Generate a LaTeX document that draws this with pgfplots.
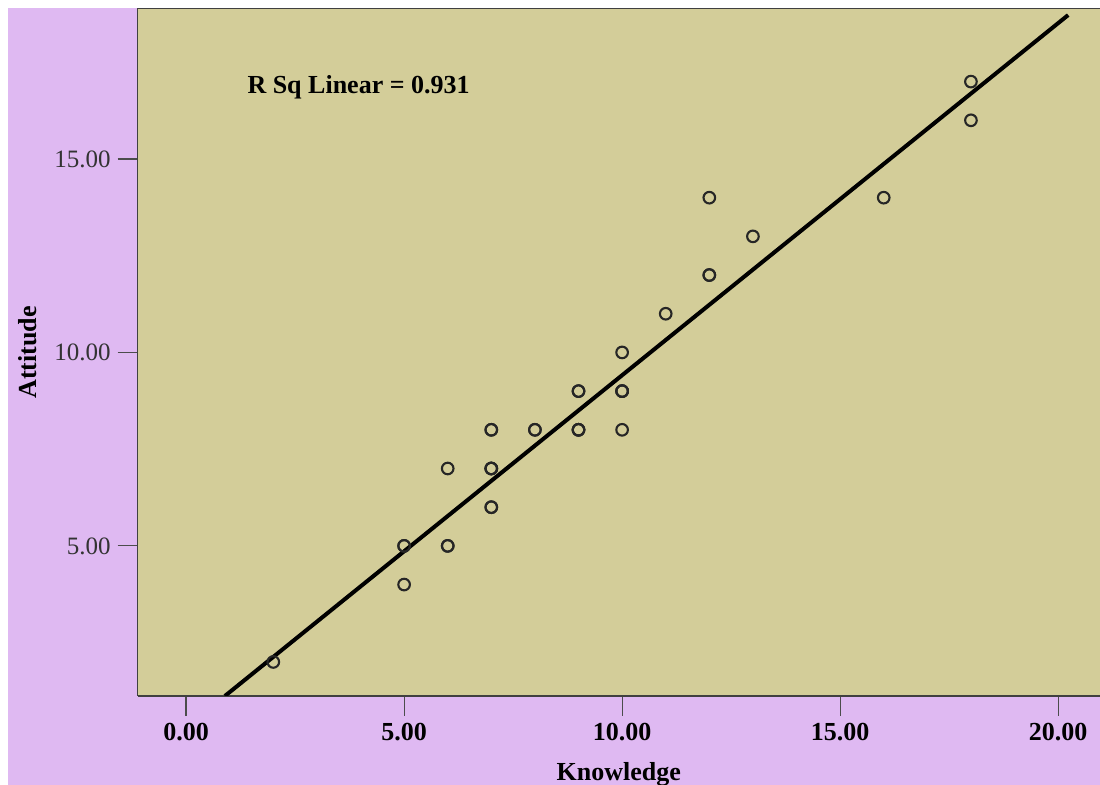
\documentclass[border=0pt]{standalone}
\usepackage{fontspec}
\setmainfont{Liberation Serif}
\usepackage{pgfplots}
\pgfplotsset{compat=1.18}
\definecolor{lav}{RGB}{223,185,242}
\definecolor{plotbg}{RGB}{211,205,153}
\begin{document}
\begin{tikzpicture}[x=1pt,y=1pt]
\fill[white] (-68.85,-44.5) rectangle (481.15,348);
\fill[lav] (-64.85,-44.5) rectangle (481.15,344.2);
\begin{axis}[
  at={(0,0)}, anchor=south west,
  scale only axis, width=481.15pt, height=343.75pt,
  xmin=-1.11, xmax=20.96, ymin=1.12, ymax=18.89,
  axis background/.style={fill=plotbg},
  axis x line=box, axis y line=left,
  axis line style={-, draw=black!75, line width=0.7pt},
  xtick pos=left, ytick pos=left,
  tick align=outside, major tick length=10pt,
  tick style={draw=black!70, line width=0.6pt},
  xtick={0,5,10,15,20},
  xticklabels={0.00,5.00,10.00,15.00,20.00},
  ytick={5,10,15},
  yticklabels={5.00,10.00,15.00},
  xticklabel style={font=\bfseries\fontsize{13}{15}\selectfont, text=black},
  yticklabel style={font=\fontsize{12.5}{15}\selectfont, text=black!80},
  every axis x label/.style={at={(axis description cs:0.5,0)}, anchor=center, yshift=-39pt, font=\bfseries\fontsize{13}{15}\selectfont},
  every axis y label/.style={at={(axis description cs:-0.1143,0.5)}, anchor=center, rotate=90, font=\bfseries\fontsize{13}{15}\selectfont},
  xlabel={Knowledge}, ylabel={Attitude},
  clip=true,
]
\addplot[black, line width=2pt] coordinates {(0.89,1.12) (20.23,18.72)};
\addplot[only marks, mark=o, mark size=2.9pt, mark options={line width=1.05pt, draw=black!85}] coordinates {
(2,2) (5,5) (5,5) (5,4) (6,7) (6,5) (6,5) (7,8) (7,8) (7,7) (7,7) (7,7) (7,6) (7,6)
(8,8) (8,8) (9,9) (9,9) (9,8) (9,8) (9,8) (10,10) (10,9) (10,9) (10,9) (10,8)
(11,11) (12,14) (12,12) (12,12) (13,13) (16,14) (18,17) (18,16)
};
\node[anchor=west, inner sep=0pt, font=\bfseries\fontsize{13}{15}\selectfont] at (axis cs:1.40,16.86) {R Sq Linear = 0.931};
\end{axis}
\pgfresetboundingbox
\path[use as bounding box] (-68.85,-44.5) rectangle (481.15,348);
\end{tikzpicture}
\end{document}
